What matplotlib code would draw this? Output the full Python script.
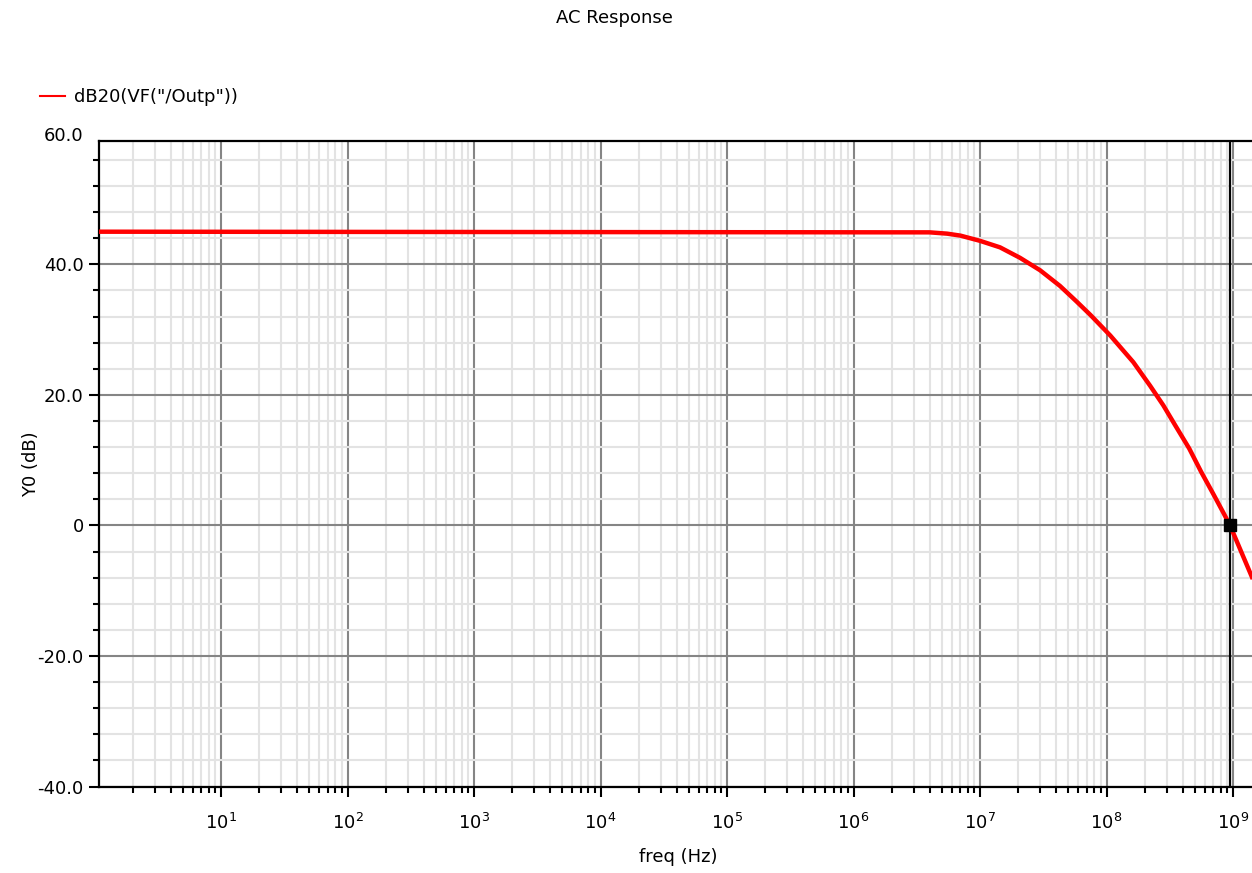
"""Recreate the Cadence-style AC response (dB20 of /Outp) plot."""

import matplotlib

matplotlib.use("Agg")
import matplotlib.pyplot as plt
from matplotlib.lines import Line2D
from matplotlib.ticker import FixedLocator, LogLocator, NullFormatter

plt.rcParams["font.family"] = ["DejaVu Sans"]
plt.rcParams["font.size"] = 13

# values
freq_hz = [1.085, 4.0e6, 5.5e6, 7.0e6, 1.0e7, 1.44e7, 2.07e7, 2.98e7, 4.28e7,
           5.8e7, 7.5e7, 1.07e8, 1.63e8, 2.21e8, 2.81e8, 3.5e8, 4.5e8,
           5.6e8, 6.99e8, 8.2e8, 9.47e8, 1.41e9]
gain_db = [45.0, 44.9, 44.7, 44.4, 43.6, 42.6, 41.0, 39.1, 36.7,
           34.3, 32.2, 29.1, 25.0, 21.4, 18.4, 15.3, 11.8,
           8.2, 4.8, 2.3, 0.0, -7.9]
cursor_freq = 9.47e8
cursor_db = 0.0

x_major = [10.0 ** k for k in range(1, 10)]
y_major = [-40, -20, 0, 20, 40]
y_labels = ["-40.0", "-20.0", "0", "20.0", "40.0"]
y_minor = [v for v in range(-36, 60, 4) if v % 20 != 0]

W, H = 1252, 873
fig = plt.figure(figsize=(W / 100, H / 100), dpi=100)

# axes runs slightly past the right edge, as in the cropped original
left_px, right_px, top_px, bot_px = 99, 1262, 141.3, 786.5
ax = fig.add_axes([left_px / W, 1 - bot_px / H,
                   (right_px - left_px) / W, (bot_px - top_px) / H])

ax.set_xscale("log")
ax.set_xlim(10 ** 0.0356, 10 ** 9.229)
ax.set_ylim(-40, 58.85)

ax.plot(freq_hz, gain_db, color="#ff0000", lw=3.2, zorder=4)
ax.axvline(cursor_freq, color="black", lw=1.6, zorder=3)
ax.plot([cursor_freq], [cursor_db], marker="s", color="black", ms=8, zorder=5)

ax.xaxis.set_major_locator(FixedLocator(x_major))
ax.xaxis.set_minor_locator(LogLocator(base=10, subs=range(2, 10), numticks=200))
ax.xaxis.set_minor_formatter(NullFormatter())
ax.yaxis.set_major_locator(FixedLocator(y_major))
ax.set_yticklabels(y_labels)
ax.yaxis.set_minor_locator(FixedLocator(y_minor))

ax.grid(which="major", color="#858585", lw=1.5, zorder=1)
ax.grid(which="minor", color="#e3e3e3", lw=1.5, zorder=0)
ax.set_axisbelow(True)

for side in ("left", "bottom", "top"):
    ax.spines[side].set_linewidth(1.6)
    ax.spines[side].set_color("black")
ax.spines["right"].set_visible(False)

ax.tick_params(which="major", direction="out", length=7, width=1.5, color="black")
ax.tick_params(which="minor", direction="out", length=4, width=1.5, color="black")
ax.tick_params(axis="y", which="major", pad=4)
ax.tick_params(axis="x", which="major", pad=12)
ax.tick_params(top=False, right=False, which="both")

# the top label sits just above the axes frame in the original
fig.text(83 / W, 1 - 136 / H, "60.0", ha="right", va="center", fontsize=13)

fig.text(614 / W, 1 - 18 / H, "AC Response", ha="center", va="center", fontsize=13)
fig.text(678 / W, 1 - 857 / H, "freq (Hz)", ha="center", va="center", fontsize=13)
fig.text(31 / W, 1 - 464 / H, "Y0 (dB)", ha="center", va="center",
         rotation=90, fontsize=13)

legend_handle = Line2D([], [], color="#ff0000", lw=1.5)
ax.legend([legend_handle], ['dB20(VF("/Outp"))'], loc="center left",
          bbox_to_anchor=(40 / W, 1 - 97 / H), bbox_transform=fig.transFigure,
          frameon=False, handlelength=1.4, handletextpad=0.5,
          borderaxespad=0, borderpad=0)

fig.savefig("out.png", dpi=100)
